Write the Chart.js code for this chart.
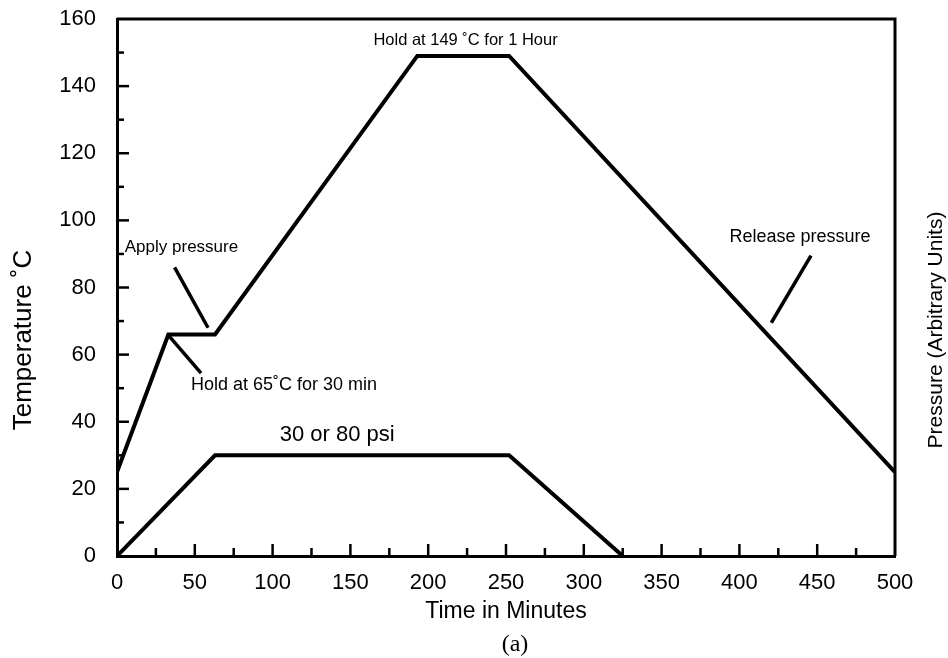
<!DOCTYPE html>
<html>
<head>
<meta charset="utf-8">
<script src="https://cdn.jsdelivr.net/npm/chart.js@4.4.1/dist/chart.umd.min.js"></script>
<style>
html, body { margin: 0; padding: 0; background: #fff; }
#wrap { width: 948px; height: 658px; }
</style>
</head>
<body>
<div id="wrap"><canvas id="cureChart"></canvas></div>
<script>
// Cure cycle
const timeTemp = [0, 33, 63, 193, 252, 500];
const tempC = [25, 66, 66, 149, 149, 25];
const timePress = [0, 63, 252, 325];
const pressure = [0, 30, 30, 0];

const xRange = [0, 500];
const xStep = 25;
const yRange = [0, 160];
const yStep = 10;

const FONT = '"Liberation Sans", Arial, Helvetica, sans-serif';

function toPoints(xs, ys) {
    return xs.map((x, i) => ({ x: x, y: ys[i] }));
}

// ticks pointing inward, labels, notes and the extra titles
const decorPlugin = {
    id: 'decor',
    afterDraw(chart) {
        const ctx = chart.ctx;
        const area = chart.chartArea;
        const xs = chart.scales.x;
        const ys = chart.scales.y;
        ctx.save();
        ctx.strokeStyle = '#000';
        ctx.fillStyle = '#000';

        // top and right frame
        ctx.lineWidth = 3;
        ctx.beginPath();
        ctx.moveTo(area.left, area.top);
        ctx.lineTo(area.right, area.top);
        ctx.lineTo(area.right, area.bottom);
        ctx.stroke();

        // inward ticks
        ctx.lineWidth = 2.5;
        ys.ticks.forEach(t => {
            if (t.value <= yRange[0] || t.value >= yRange[1]) return;
            const py = ys.getPixelForValue(t.value);
            const len = t.value % 20 === 0 ? 12 : 7;
            ctx.beginPath();
            ctx.moveTo(area.left, py);
            ctx.lineTo(area.left + len, py);
            ctx.stroke();
        });
        xs.ticks.forEach(t => {
            if (t.value <= xRange[0] || t.value >= xRange[1]) return;
            const px = xs.getPixelForValue(t.value);
            const len = t.value % 50 === 0 ? 12 : 8;
            ctx.beginPath();
            ctx.moveTo(px, area.bottom);
            ctx.lineTo(px, area.bottom - len);
            ctx.stroke();
        });

        // leader lines (in minutes / deg C)
        const leaders = [
            [37, 86, 58.5, 68],
            [33.5, 65.5, 54, 54.5],
            [446, 89.5, 420.5, 69.5]
        ];
        ctx.lineWidth = 3.5;
        leaders.forEach(l => {
            ctx.beginPath();
            ctx.moveTo(xs.getPixelForValue(l[0]), ys.getPixelForValue(l[1]));
            ctx.lineTo(xs.getPixelForValue(l[2]), ys.getPixelForValue(l[3]));
            ctx.stroke();
        });

        // notes
        const notes = [
            ['Hold at 149 ˚C for 1 Hour', 224, 153.5, 'center', 16.5],
            ['Apply pressure', 5, 92, 'left', 17],
            ['Hold at 65˚C for 30 min', 47.5, 51, 'left', 18],
            ['30 or 80 psi', 141.5, 36, 'center', 22],
            ['Release pressure', 439, 95, 'center', 18]
        ];
        ctx.textBaseline = 'middle';
        notes.forEach(n => {
            ctx.font = n[4] + 'px ' + FONT;
            ctx.textAlign = n[3];
            ctx.fillText(n[0], xs.getPixelForValue(n[1]), ys.getPixelForValue(n[2]));
        });

        // left and right axis titles
        ctx.textAlign = 'center';
        ctx.save();
        ctx.translate(24, 340);
        ctx.rotate(-Math.PI / 2);
        ctx.font = '26px ' + FONT;
        ctx.fillText('Temperature ˚C', 0, 0);
        ctx.restore();

        ctx.save();
        ctx.translate(936, 330);
        ctx.rotate(-Math.PI / 2);
        ctx.font = '21px ' + FONT;
        ctx.fillText('Pressure (Arbitrary Units)', 0, 0);
        ctx.restore();

        // panel label
        ctx.font = '24px "Liberation Serif", "Times New Roman", serif';
        ctx.fillText('(a)', 515, 645);
        ctx.restore();
    }
};

const ctx = document.getElementById('cureChart').getContext('2d');
new Chart(ctx, {
    type: 'line',
    data: {
        datasets: [{
            label: 'Temperature',
            data: toPoints(timeTemp, tempC),
            borderColor: '#000',
            borderWidth: 4,
            pointRadius: 0,
            tension: 0
        }, {
            label: 'Pressure',
            data: toPoints(timePress, pressure),
            borderColor: '#000',
            borderWidth: 4,
            pointRadius: 0,
            tension: 0
        }]
    },
    options: {
        responsive: true,
        maintainAspectRatio: false,
        animation: false,
        layout: { padding: { top: 19, right: 53, left: 0, bottom: 0 } },
        plugins: {
            legend: { display: false },
            tooltip: { enabled: false }
        },
        scales: {
            x: {
                type: 'linear',
                min: xRange[0],
                max: xRange[1],
                grid: { display: false, drawTicks: false },
                border: { display: true, color: '#000', width: 3 },
                ticks: {
                    stepSize: xStep,
                    autoSkip: false,
                    maxRotation: 0,
                    padding: 14,
                    color: '#000',
                    font: { family: FONT, size: 22 },
                    callback: v => (v % 50 === 0 ? String(v) : '')
                },
                title: {
                    display: true,
                    text: 'Time in Minutes',
                    color: '#000',
                    font: { family: FONT, size: 23 },
                    padding: { top: 0, bottom: 33 }
                },
                afterFit: s => { s.height = 102; }
            },
            y: {
                type: 'linear',
                min: yRange[0],
                max: yRange[1],
                // invisible outer ticks keep the labels off the axis without padding the top
                grid: {
                    display: true,
                    drawOnChartArea: false,
                    drawTicks: true,
                    tickLength: 21,
                    tickColor: 'rgba(0,0,0,0)'
                },
                border: { display: true, color: '#000', width: 3 },
                ticks: {
                    stepSize: yStep,
                    autoSkip: false,
                    padding: 0,
                    color: '#000',
                    font: { family: FONT, size: 22 },
                    callback: v => (v % 20 === 0 ? String(v) : '')
                },
                afterFit: s => { s.width = 117; }
            }
        }
    },
    plugins: [decorPlugin]
});
</script>
</body>
</html>
